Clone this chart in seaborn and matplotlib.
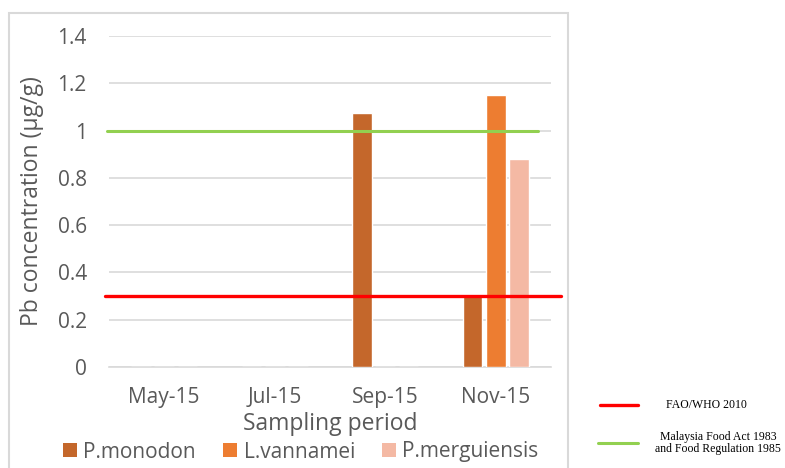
import matplotlib
matplotlib.use("Agg")
import matplotlib.pyplot as plt
import seaborn as sns
import pandas as pd
from matplotlib.patches import Patch, Rectangle
from matplotlib.lines import Line2D
from matplotlib.ticker import FuncFormatter, FixedLocator

# Lead concentrations by sampling month and shrimp species
periods = ["May-15", "Jul-15", "Sep-15", "Nov-15"]
species = ["P.monodon", "L.vannamei", "P.merguiensis"]
p_monodon = [0.0, 0.0, 1.075, 0.30]
l_vannamei = [0.0, 0.0, 0.0, 1.15]
p_merguiensis = [0.0, 0.0, 0.0, 0.88]

# Permissible limits
fao_who_limit = 0.3
malaysia_limit = 1.0

colors = ["#C4672B", "#ED7D31", "#F4B9A4"]
text_grey = "#595959"
grid_grey = "#D9D9D9"

rows = []
for sp, vals in zip(species, [p_monodon, l_vannamei, p_merguiensis]):
    for per, v in zip(periods, vals):
        rows.append({"period": per, "species": sp, "pb": v})
df = pd.DataFrame(rows)

sns.set_theme(style="white")
plt.rcParams["font.family"] = ["Open Sans", "DejaVu Sans"]

W, H = 785, 468
fig = plt.figure(figsize=(W / 100, H / 100), dpi=100)
ax = fig.add_axes([109 / W, 1 - 367 / H, (551 - 109) / W, (367 - 36) / H])

sns.barplot(data=df, x="period", y="pb", hue="species", order=periods,
            hue_order=species, palette=colors, saturation=1, width=0.63,
            gap=0.15, legend=False, ax=ax, zorder=3)

ax.set_xlim(-0.5, 3.5)
ax.set_ylim(0, 1.4)
ax.yaxis.set_major_locator(FixedLocator([0, 0.2, 0.4, 0.6, 0.8, 1.0, 1.2, 1.4]))
ax.yaxis.set_major_formatter(FuncFormatter(lambda v, _: f"{v:g}"))
ax.grid(axis="y", color=grid_grey, linewidth=1.2, zorder=0)
ax.set_axisbelow(True)

for s in ["top", "right", "left"]:
    ax.spines[s].set_visible(False)
ax.spines["bottom"].set_color(grid_grey)
ax.spines["bottom"].set_linewidth(1.2)

ax.tick_params(axis="y", length=0, pad=16, labelsize=15, labelcolor=text_grey)
ax.tick_params(axis="x", length=0, pad=14.5, labelsize=15, labelcolor=text_grey)
ax.set_xticks(range(len(periods)), periods)
ax.set_xticks([-0.5, 0.5, 1.5, 2.5, 3.5], minor=True)
ax.tick_params(axis="x", which="minor", length=5, width=1.2, color=grid_grey)

ax.set_xlabel("Sampling period", fontsize=16.5, color=text_grey, labelpad=3)
ax.set_ylabel("Pb concentration (µg/g)", fontsize=16.5, color=text_grey, labelpad=10)

# Limit lines
ax.axhline(fao_who_limit, xmin=-0.009, xmax=1.023, color="#FF0000",
           linewidth=2.4, zorder=5, clip_on=False)
ax.axhline(malaysia_limit, xmin=-0.005, xmax=0.971, color="#92D050",
           linewidth=2.2, zorder=5, clip_on=False)

# Species legend below the axis title
handles = [Patch(facecolor=c, edgecolor="none") for c in colors]
fig.legend(handles, species, loc="center left",
           bbox_to_anchor=(63 / W, 1 - 452 / H), ncol=3, frameon=False,
           fontsize=15, labelcolor=text_grey, handlelength=0.68,
           handleheight=0.68, handletextpad=0.3, columnspacing=1.3,
           borderaxespad=0, borderpad=0)

# Outer chart frame
fig.add_artist(Rectangle((9 / W, -0.05), (568 - 9) / W, 1 - 13 / H + 0.05,
                         transform=fig.transFigure, fill=False,
                         edgecolor=grid_grey, linewidth=1.5, clip_on=False))

# Limit line key at the right
serif = ["Liberation Serif", "DejaVu Serif"]
fig.add_artist(Line2D([600 / W, 638 / W], [1 - 405 / H] * 2, color="#FF0000",
                      linewidth=2.4, transform=fig.transFigure))
fig.text(706 / W, 1 - 405 / H, "FAO/WHO 2010", ha="center", va="center",
         fontsize=8.5, family=serif, color="black")
fig.add_artist(Line2D([598 / W, 638 / W], [1 - 443 / H] * 2, color="#92D050",
                      linewidth=2.2, transform=fig.transFigure))
fig.text(718 / W, 1 - 443 / H, "Malaysia Food Act 1983\nand Food Regulation 1985",
         ha="center", va="center", fontsize=8.5, family=serif, color="black",
         linespacing=1.1)

fig.savefig("out.png", dpi=100)
